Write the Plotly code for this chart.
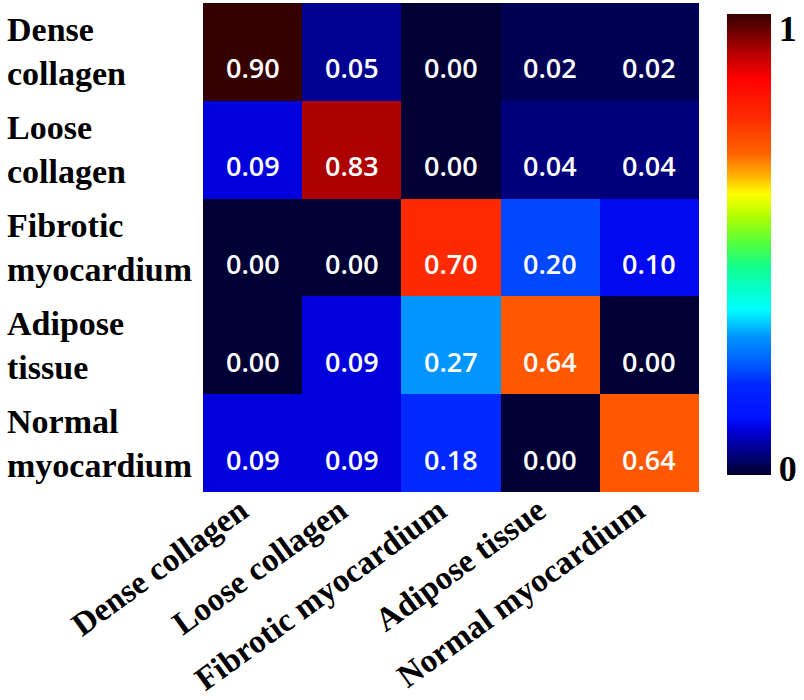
import plotly.graph_objects as go

classes = ["Dense collagen", "Loose collagen", "Fibrotic myocardium", "Adipose tissue", "Normal myocardium"]
row_labels = ["Dense<br>collagen", "Loose<br>collagen", "Fibrotic<br>myocardium", "Adipose<br>tissue", "Normal<br>myocardium"]
values = [
    [0.90, 0.05, 0.00, 0.02, 0.02],
    [0.09, 0.83, 0.00, 0.04, 0.04],
    [0.00, 0.00, 0.70, 0.20, 0.10],
    [0.00, 0.09, 0.27, 0.64, 0.00],
    [0.09, 0.09, 0.18, 0.00, 0.64],
]
cbar_ticktext = ["0", "1"]

colorscale = [
    [0.000, "#000035"],
    [0.022, "#000055"],
    [0.055, "#000090"],
    [0.100, "#0000dd"],
    [0.120, "#0010ff"],
    [0.200, "#0028ff"],
    [0.222, "#0048ff"],
    [0.300, "#0095ff"],
    [0.360, "#00ffff"],
    [0.450, "#10ff90"],
    [0.500, "#50ff40"],
    [0.560, "#b0ff00"],
    [0.610, "#ffff00"],
    [0.650, "#ffb000"],
    [0.700, "#ff6000"],
    [0.780, "#ff2800"],
    [0.860, "#ff0000"],
    [0.920, "#b00000"],
    [1.000, "#350000"],
]

zmin = 0.0
zmax = max(max(r) for r in values)
span = zmax - zmin
# label placement inset slightly from the bar ends, as in the reference
cbar_tickvals = [zmin + 0.015 * span, zmax - 0.03 * span]

serif_bold = dict(family="Liberation Serif, Times New Roman, serif", color="black", weight="bold")

fig = go.Figure(go.Heatmap(
    z=values, x=classes, y=classes,
    zmin=zmin, zmax=zmax,
    colorscale=colorscale,
    xgap=0, ygap=0,
    hoverinfo="skip",
    colorbar=dict(
        x=1.056, xanchor="left", xref="paper",
        y=0.506, yanchor="middle",
        len=461, lenmode="pixels",
        thickness=44, thicknessmode="pixels",
        outlinewidth=0, xpad=0, ypad=0,
        tickvals=cbar_tickvals, ticktext=cbar_ticktext,
        ticks="", ticklen=0,
        tickfont=dict(size=36, **serif_bold),
    ),
))

annotations = []
for lab, cat in zip(row_labels, classes):
    annotations.append(dict(
        x=-0.399, xref="paper", xanchor="left",
        y=cat, yref="y", yanchor="middle",
        text=lab, align="left", showarrow=False,
        font=dict(size=34, **serif_bold),
    ))
for i, rc in enumerate(classes):
    for j, cc in enumerate(classes):
        annotations.append(dict(
            x=cc, y=rc, xref="x", yref="y",
            text=f"{values[i][j]:.2f}", showarrow=False, yshift=-16,
            font=dict(family="Open Sans, Noto Sans, sans-serif", size=27, color="white", weight=600),
        ))

fig.update_layout(
    width=804, height=700,
    margin=dict(l=203, r=105, t=3, b=208, autoexpand=False),
    paper_bgcolor="white", plot_bgcolor="white",
    annotations=annotations,
    xaxis=dict(tickangle=-36, tickfont=dict(size=33, **serif_bold), showgrid=False,
               zeroline=False, ticks="", showline=False, automargin=False,
               ticklabelstandoff=-8, ticklabelshift=-12),
    yaxis=dict(autorange="reversed", showticklabels=False, showgrid=False,
               zeroline=False, ticks="", showline=False, automargin=False),
)

fig.write_html(
    "out.html",
    config={"displayModeBar": False},
    post_script="document.body.style.margin='0';document.body.style.overflow='hidden';",
)
